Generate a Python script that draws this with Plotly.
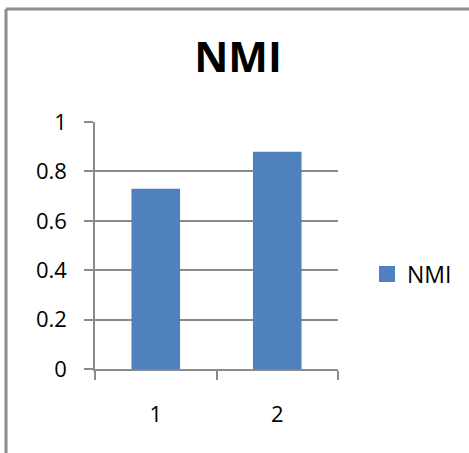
import plotly.graph_objects as go

# Chart data
categories = ["1", "2"]
nmi_values = [0.73, 0.88]
y_ticks = [0, 0.2, 0.4, 0.6, 0.8, 1]
y_tick_labels = ["0", "0.2", "0.4", "0.6", "0.8", "1"]

W, H = 469, 453
M_L, M_R, M_T, M_B = 95, 131, 122, 84
plot_w = W - M_L - M_R
plot_h = H - M_T - M_B

GRID = "#8a8a8a"
BAR = "#4F81BD"
FONT = "Open Sans"


def px_to_paper_x(px):
    return (px - M_L) / plot_w


def px_to_paper_y(py):
    return (H - M_B - py) / plot_h


fig = go.Figure()
fig.add_trace(
    go.Bar(
        x=categories,
        y=nmi_values,
        name="NMI",
        marker=dict(color=BAR, line=dict(width=0)),
        width=0.4,
        showlegend=False,
    )
)
# legend entry with a larger square key
fig.add_trace(
    go.Scatter(
        x=[None],
        y=[None],
        mode="markers",
        name="NMI",
        marker=dict(symbol="square", size=16, color=BAR),
        showlegend=True,
    )
)

fig.update_layout(
    width=W,
    height=H,
    margin=dict(l=M_L, r=M_R, t=M_T, b=M_B),
    paper_bgcolor="white",
    plot_bgcolor="white",
    font=dict(family=FONT, color="black", size=22),
    title=dict(
        text="<b>NMI</b>",
        font=dict(family=FONT, size=42, color="black"),
        x=px_to_paper_x(238),
        xref="paper",
        xanchor="center",
        y=1 - 57 / H,
        yanchor="middle",
    ),
    legend=dict(
        x=px_to_paper_x(367),
        xanchor="left",
        y=px_to_paper_y(274),
        yanchor="middle",
        font=dict(family=FONT, size=23, color="black"),
        bgcolor="rgba(0,0,0,0)",
        itemwidth=30,
    ),
    xaxis=dict(
        type="category",
        tickson="boundaries",
        showline=True,
        linecolor=GRID,
        linewidth=1.5,
        ticks="outside",
        ticklen=9,
        tickwidth=1.5,
        tickcolor=GRID,
        showgrid=False,
        ticklabelstandoff=25,
        tickfont=dict(family=FONT, size=22, color="black"),
    ),
    yaxis=dict(
        range=[0, 1],
        tickvals=y_ticks,
        ticktext=y_tick_labels,
        showline=True,
        linecolor=GRID,
        linewidth=1.5,
        ticks="outside",
        ticklen=9,
        tickwidth=1.5,
        tickcolor=GRID,
        showgrid=True,
        gridcolor=GRID,
        gridwidth=1.5,
        zeroline=False,
        ticklabelstandoff=13,
        tickfont=dict(family=FONT, size=22, color="black"),
    ),
    shapes=[
        # outer chart frame (top and left edges)
        dict(type="line", xref="paper", yref="paper",
             x0=px_to_paper_x(6), x1=px_to_paper_x(W + 10),
             y0=px_to_paper_y(9), y1=px_to_paper_y(9),
             line=dict(color="#8c8c8c", width=3)),
        dict(type="line", xref="paper", yref="paper",
             x0=px_to_paper_x(6), x1=px_to_paper_x(6),
             y0=px_to_paper_y(9), y1=px_to_paper_y(H + 10),
             line=dict(color="#8c8c8c", width=3)),
    ],
)

fig.write_html("out.html")
